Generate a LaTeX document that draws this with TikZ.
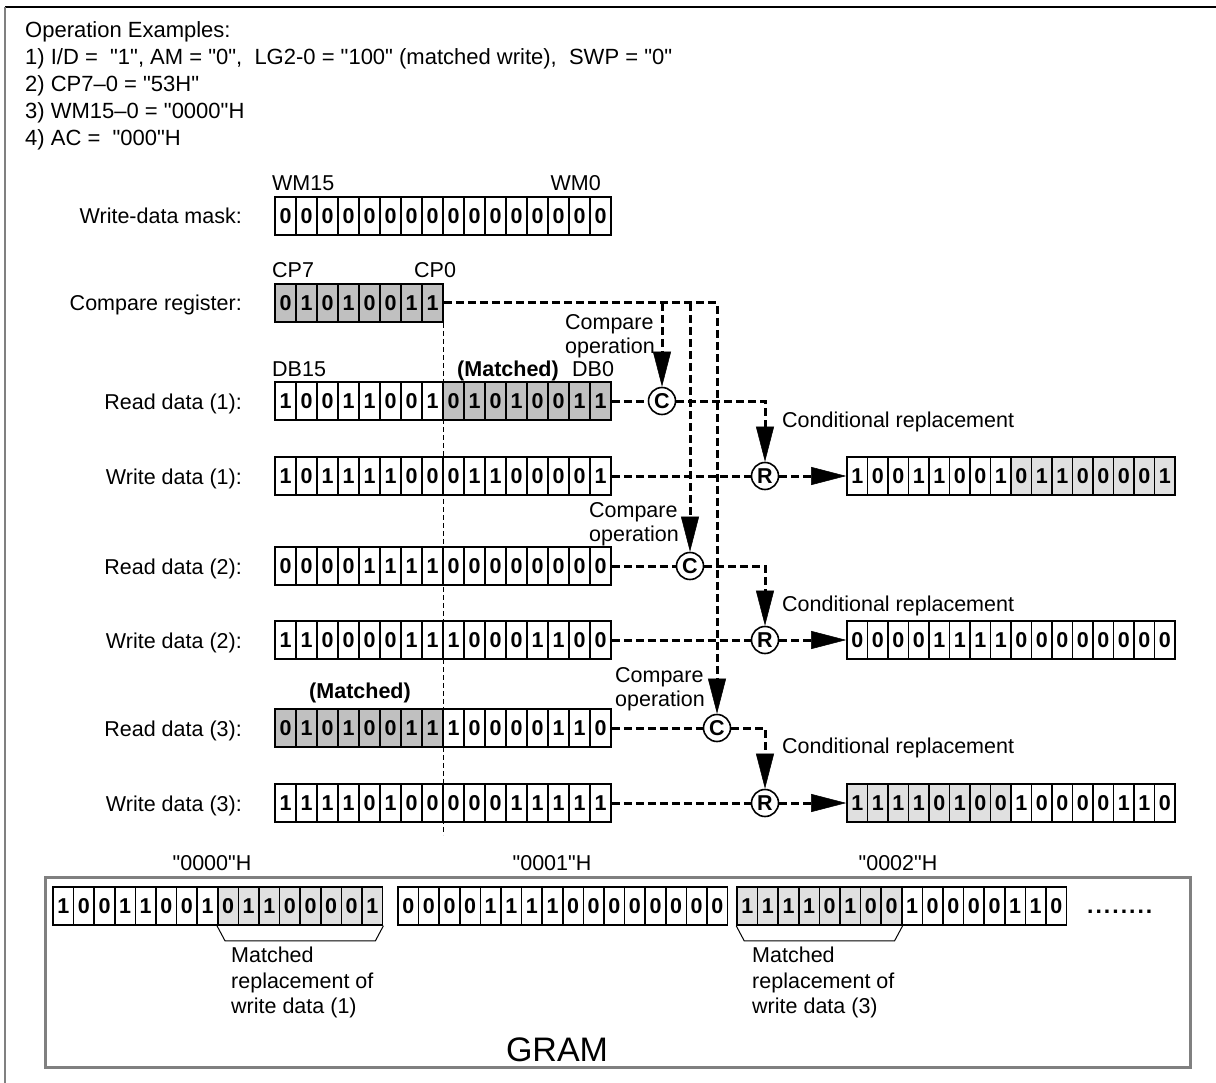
\documentclass[tikz,border=0pt]{standalone}
\usepackage{fontspec}
\setmainfont{Liberation Sans}[Ligatures=TeXOff]
\usepackage{tikz}
\usetikzlibrary{arrows.meta,positioning,calc}
\definecolor{cmpGray}{RGB}{192,192,192}
\definecolor{repGray}{RGB}{224,224,224}
\definecolor{frameGray}{RGB}{128,128,128}

% one register: name, left x, y, cell width, bits, first/last shaded cell, shade
\newcommand{\bitrow}[8]{%
  \foreach \b [count=\i] in {#5}{%
    \def\cellfill{white}%
    \ifnum\i<#6\relax\else\ifnum\i>#7\relax\else\def\cellfill{#8}\fi\fi
    \node[bit, minimum width=#4pt, fill=\cellfill] (#1-\i) at ({#2+(\i-0.5)*#4}, #3) {\b};
  }%
}

\begin{document}
\begin{tikzpicture}[x=1pt,y=-1pt,
  every node/.style={font=\fontsize{21.5}{24}\selectfont, inner sep=0pt},
  bit/.style={draw, line width=1.6pt, minimum height=38pt, font=\fontsize{21.5}{24}\selectfont\bfseries},
  op/.style={circle, draw, fill=white, line width=1.6pt, minimum size=27pt, font=\fontsize{21.5}{24}\selectfont\bfseries},
  dline/.style={line width=3pt, dash pattern=on 8pt off 4pt},
  vline/.style={line width=1pt, dash pattern=on 5pt off 3pt},
  tip/.style={-{Triangle[length=35pt,width=18pt,line width=0.5pt]}},
  hdr/.style={anchor=base west, font=\fontsize{22}{24}\selectfont}]
\useasboundingbox (0,0) rectangle (1216,1083);
\draw[line width=2pt] (5,7) -- (1216,7);
\draw[frameGray, line width=2pt] (5,7) -- (5,1083);

% operation examples
\node[hdr] (ex0) at (25,38) {Operation Examples:};
\node[hdr] (ex1) at (25,65) {1) I/D = \ "1", AM = "0", \ LG2-0 = "100" (matched write), \ SWP = "0"};
\node[hdr] (ex2) at (25,92) {2) CP7–0 = "53H"};
\node[hdr] (ex3) at (25,119) {3) WM15–0 = "0000"H};
\node[hdr] (ex4) at (25,146) {4) AC = \ "000"H};

% row labels
\node[anchor=base east] (lmask) at (242,224) {Write-data mask:};
\node[anchor=base east] (lcp) at (242,311) {Compare register:};
\node[anchor=base east] (lrd1) at (242,409) {Read data (1):};
\node[anchor=base east] (lwd1) at (242,484) {Write data (1):};
\node[anchor=base east] (lrd2) at (242,574) {Read data (2):};
\node[anchor=base east] (lwd2) at (242,648) {Write data (2):};
\node[anchor=base east] (lrd3) at (242,736) {Read data (3):};
\node[anchor=base east] (lwd3) at (242,811) {Write data (3):};

% registers
\bitrow{mask}{275}{216}{21}{0,0,0,0,0,0,0,0,0,0,0,0,0,0,0,0}{0}{0}{white}
\bitrow{cp}{275}{303}{21}{0,1,0,1,0,0,1,1}{1}{8}{cmpGray}
\bitrow{rd1}{275}{401}{21}{1,0,0,1,1,0,0,1,0,1,0,1,0,0,1,1}{9}{16}{cmpGray}
\bitrow{wd1}{275}{476}{21}{1,0,1,1,1,1,0,0,0,1,1,0,0,0,0,1}{0}{0}{white}
\bitrow{rd2}{275}{566}{21}{0,0,0,0,1,1,1,1,0,0,0,0,0,0,0,0}{0}{0}{white}
\bitrow{wd2}{275}{640}{21}{1,1,0,0,0,0,1,1,1,0,0,0,1,1,0,0}{0}{0}{white}
\bitrow{rd3}{275}{728}{21}{0,1,0,1,0,0,1,1,1,0,0,0,0,1,1,0}{1}{8}{cmpGray}
\bitrow{wd3}{275}{803}{21}{1,1,1,1,0,1,0,0,0,0,0,1,1,1,1,1}{0}{0}{white}

\node[anchor=base west] (wm15) at (272,191) {WM15};
\node[anchor=base east] (wm0) at (601,191) {WM0};
\node[anchor=base west] (cp7) at (272,278) {CP7};
\node[anchor=base west] (cp0) at (414,278) {CP0};
\node[anchor=base west] (db15) at (272,377) {DB15};
\node[anchor=base, font=\fontsize{21.5}{24}\selectfont\bfseries] (m1) at (508,377) {(Matched)};
\node[anchor=base west] (db0) at (572,377) {DB0};
\node[anchor=base, font=\fontsize{21.5}{24}\selectfont\bfseries] (m3) at (360,698) {(Matched)};

\draw[vline] (cp-8.south east) -- ++(0,512);

% compare and replace
\node[op] (c1) at (662,401) {C};
\node[op] (c2) at (690,566) {C};
\node[op] (c3) at (717,728) {C};
\node[op] (r1) at (765,476) {R};
\node[op] (r2) at (765,640) {R};
\node[op] (r3) at (765,803) {R};

\node[anchor=north east, align=left] (op1) at (655,314) {Compare\\operation};
\node[anchor=north east, align=left] (op2) at (679,502) {Compare\\operation};
\node[anchor=north east, align=left] (op3) at (705,667) {Compare\\operation};
\node[anchor=base west] (cr1) at (782,428) {Conditional replacement};
\node[anchor=base west] (cr2) at (782,611) {Conditional replacement};
\node[anchor=base west] (cr3) at (782,753) {Conditional replacement};

\draw[dline,tip] (cp-8.east) -| (c3);
\draw[dline,tip] (cp-8.east -| c1) -- (c1);
\draw[dline,tip] (cp-8.east -| c2) -- (c2);

\draw[dline] (rd1-16.east) -- (c1);
\draw[dline] (rd2-16.east) -- (c2);
\draw[dline] (rd3-16.east) -- (c3);
\draw[dline,tip] (c1) -| (r1);
\draw[dline,tip] (c2) -| (r2);
\draw[dline,tip] (c3) -| (r3);
\draw[dline] (wd1-16.east) -- (r1);
\draw[dline] (wd2-16.east) -- (r2);
\draw[dline] (wd3-16.east) -- (r3);

% results
\bitrow{res1}{847}{476}{20.5}{1,0,0,1,1,0,0,1,0,1,1,0,0,0,0,1}{9}{16}{repGray}
\bitrow{res2}{847}{640}{20.5}{0,0,0,0,1,1,1,1,0,0,0,0,0,0,0,0}{0}{0}{white}
\bitrow{res3}{847}{803}{20.5}{1,1,1,1,0,1,0,0,1,0,0,0,0,1,1,0}{1}{8}{repGray}
\draw[dline,tip] (r1) -- (res1-1.west);
\draw[dline,tip] (r2) -- (res2-1.west);
\draw[dline,tip] (r3) -- (res3-1.west);

% GRAM
\draw[frameGray, line width=3pt] (45,877) rectangle (1190,1067);
\node[anchor=base] (a0) at (212,870) {"0000"H};
\node[anchor=base] (a1) at (552,870) {"0001"H};
\node[anchor=base] (a2) at (898,870) {"0002"H};
\bitrow{g1}{53}{906}{20.6}{1,0,0,1,1,0,0,1,0,1,1,0,0,0,0,1}{9}{16}{repGray}
\bitrow{g2}{398}{906}{20.6}{0,0,0,0,1,1,1,1,0,0,0,0,0,0,0,0}{0}{0}{white}
\bitrow{g3}{737}{906}{20.6}{1,1,1,1,0,1,0,0,1,0,0,0,0,1,1,0}{1}{8}{repGray}
\node[anchor=base west, font=\fontsize{23}{24}\selectfont\bfseries] (more) at (1087,913) {.\kern2pt.\kern2pt.\kern2pt.\kern2pt.\kern2pt.\kern2pt.\kern2pt.};

\draw[line width=1pt] (g1-9.south west) -- ++(8,15) -- ($(g1-16.south east)+(-8,15)$) -- (g1-16.south east);
\draw[line width=1pt] (g3-1.south west) -- ++(8,15) -- ($(g3-8.south east)+(-8,15)$) -- (g3-8.south east);
\node[anchor=north west, align=left, font=\fontsize{21.5}{25.5}\selectfont] (mr1) at (231,947) {Matched\\replacement of\\write data (1)};
\node[anchor=north west, align=left, font=\fontsize{21.5}{25.5}\selectfont] (mr3) at (752,947) {Matched\\replacement of\\write data (3)};
\node[anchor=base, font=\fontsize{34}{38}\selectfont] (gram) at (557,1061) {GRAM};
\end{tikzpicture}
\end{document}
